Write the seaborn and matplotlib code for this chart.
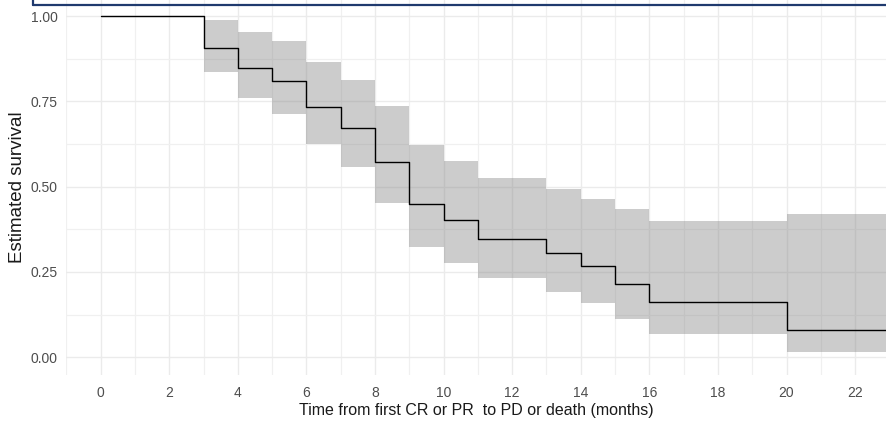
import numpy as np
import pandas as pd
import matplotlib
matplotlib.use("Agg")
import matplotlib.pyplot as plt
from matplotlib.lines import Line2D
from matplotlib.ticker import MultipleLocator
import seaborn as sns

# Kaplan-Meier estimate (step values start at each time point)
time_months = [0, 3, 4, 5, 6, 7, 8, 9, 10, 11, 13, 14, 15, 16, 20, 23]
survival = [1.00, 0.905, 0.847, 0.809, 0.734, 0.673, 0.571, 0.448, 0.402,
            0.347, 0.306, 0.268, 0.214, 0.163, 0.081, 0.081]
ci_upper = [1.00, 0.988, 0.953, 0.927, 0.864, 0.813, 0.735, 0.623, 0.576,
            0.525, 0.494, 0.464, 0.434, 0.398, 0.421, 0.421]
ci_lower = [1.00, 0.836, 0.761, 0.714, 0.625, 0.558, 0.452, 0.324, 0.277,
            0.231, 0.191, 0.158, 0.112, 0.068, 0.016, 0.016]
x_ticks = list(range(0, 23, 2))
y_ticks = [0.00, 0.25, 0.50, 0.75, 1.00]
x_label = "Time from first CR or PR  to PD or death (months)"
y_label = "Estimated survival"

df = pd.DataFrame({"time": time_months, "surv": survival,
                   "upper": ci_upper, "lower": ci_lower})

sns.set_theme(style="whitegrid")
plt.rcParams["font.family"] = ["Liberation Sans", "DejaVu Sans"]

W, H = 886, 422
fig = plt.figure(figsize=(W / 100, H / 100), dpi=100)
ax = fig.add_axes([66 / W, (H - 375) / H, (W - 66) / W, 375 / H])

ax.fill_between(df["time"], df["lower"], df["upper"], step="post",
                color="#808080", alpha=0.4, linewidth=0, zorder=2)
sns.lineplot(data=df, x="time", y="surv", drawstyle="steps-post",
             color="black", linewidth=1.0, ax=ax, zorder=3)

ax.set_xlim(-1.01, 22.9)
ax.set_ylim(-0.052, 1.047)
ax.set_xticks(x_ticks)
ax.set_xticklabels([str(t) for t in x_ticks])
ax.set_yticks(y_ticks)
ax.set_yticklabels([f"{v:.2f}" for v in y_ticks])
ax.xaxis.set_minor_locator(MultipleLocator(1))
ax.yaxis.set_minor_locator(MultipleLocator(0.125))

ax.set_facecolor("white")
for s in ax.spines.values():
    s.set_visible(False)
ax.grid(which="major", color="#ebebeb", linewidth=1.0, zorder=0)
ax.grid(which="minor", color="#f0f0f0", linewidth=0.9, zorder=0)
ax.set_axisbelow(True)
ax.tick_params(which="both", length=0, labelsize=10, labelcolor="#4d4d4d")
ax.tick_params(axis="x", pad=8)
ax.tick_params(axis="y", pad=6)

ax.set_xlabel(x_label, fontsize=11.5, color="#1a1a1a", labelpad=2)
ax.set_ylabel(y_label, fontsize=13.5, color="#1a1a1a", labelpad=3)

# frame edge across the top of the figure
fig.add_artist(Line2D([33 / W, 1.0], [1 - 5 / H, 1 - 5 / H],
                      transform=fig.transFigure, color="#1f3a6e",
                      linewidth=1.6, zorder=10))
fig.add_artist(Line2D([33 / W, 33 / W], [1.0, 1 - 5 / H],
                      transform=fig.transFigure, color="#1f3a6e",
                      linewidth=1.6, zorder=10))

fig.savefig("out.png", dpi=100, facecolor="white")
